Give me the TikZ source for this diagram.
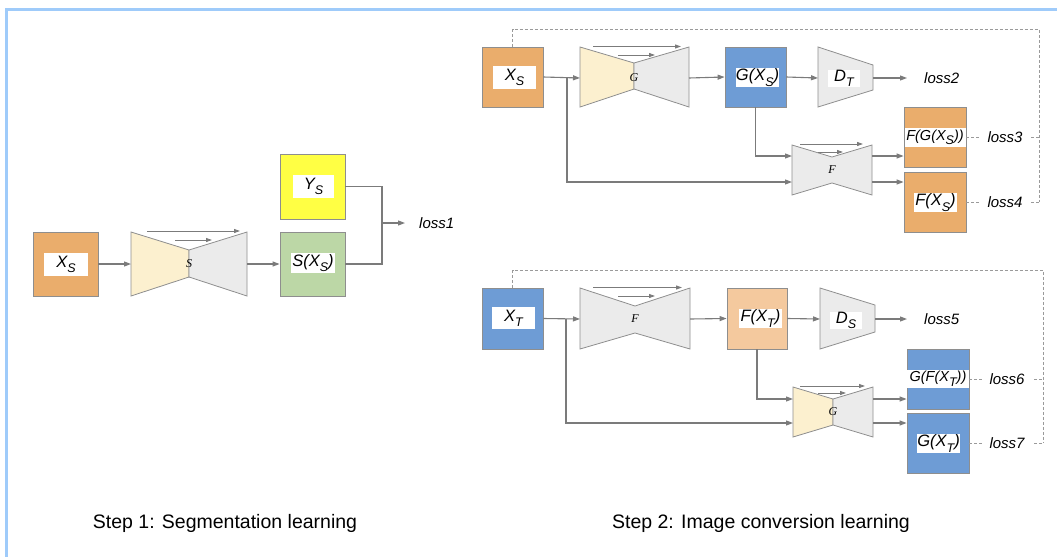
\documentclass[tikz,border=0pt]{standalone}
\usepackage{fontspec}
\setmainfont{Liberation Sans}
\newfontfamily\serifit{Liberation Serif}
\usetikzlibrary{arrows.meta}
\definecolor{frameblue}{HTML}{9FCBFA}
\definecolor{boxline}{HTML}{8E8E8E}
\definecolor{wire}{HTML}{7B7B7B}
\definecolor{dashgray}{HTML}{9A9A9A}
\definecolor{orangefill}{HTML}{EAAD6C}
\definecolor{bluefill}{HTML}{6E9CD5}
\definecolor{greenfill}{HTML}{BCD7A6}
\definecolor{yellowfill}{HTML}{FFFF44}
\definecolor{peachfill}{HTML}{F4C99E}
\definecolor{encfill}{HTML}{FCF0CF}
\definecolor{decfill}{HTML}{EBEBEB}
\newcommand\lowsub[1]{\raisebox{-0.6ex}{\fontsize{12.5}{12.5}\selectfont #1}}
\tikzset{
  databox/.style={draw=boxline, line width=0.8pt, inner sep=0pt},
  tag/.style={fill=white, inner sep=0pt, font=\fontsize{16.5}{18}\selectfont\itshape},
  smalltag/.style={tag, font=\fontsize{14.5}{16}\selectfont\itshape},
  wireline/.style={draw=wire, line width=1.1pt},
  arr/.style={wireline, -{Triangle[length=7pt,width=5pt]}},
  skiparr/.style={wireline, line width=0.9pt, -{Triangle[length=6pt,width=4pt]}},
  netshape/.style={draw=boxline, line width=0.8pt},
  netname/.style={font=\fontsize{12}{12}\selectfont\serifit\itshape, inner sep=0pt},
  lossname/.style={font=\fontsize{15}{15}\selectfont\itshape, inner sep=2pt, fill=white, anchor=center},
  fbloss/.style={lossname, inner xsep=8pt},
  feedback/.style={draw=dashgray, line width=1pt, dash pattern=on 3pt off 2pt},
  caption/.style={font=\fontsize{19.5}{22}\selectfont, inner sep=0pt},
}
\begin{document}
\begin{tikzpicture}[x=1pt,y=-1pt]
\useasboundingbox (0,0) rectangle (1057,557);
% page frame (top and left rules)
\fill[frameblue] (5,8) rectangle (1057,10.7);
\fill[frameblue] (5,8) rectangle (7.7,557);

% ---------------- Step 1: segmentation ----------------
\node[databox, fill=orangefill, minimum width=65, minimum height=64] (xs1) at (65.5,264) {};
\node[tag, minimum width=44, minimum height=23] (xs1t) at (66,264.5) {X\lowsub{S}};

% segmentation network S
\filldraw[netshape, fill=encfill] (131,232) -- (189,250) -- (189,277) -- (131,296) -- cycle;
\filldraw[netshape, fill=decfill] (189,250) -- (247,232) -- (247,296) -- (189,277) -- cycle;
\draw[skiparr] (147,231) -- (240,231);
\draw[skiparr] (175,240) -- (212,240);
\node[netname] (segS) at (189,264) {S};
\coordinate (segS-in) at (131,264);
\coordinate (segS-out) at (247,264);

\node[databox, fill=greenfill, minimum width=65, minimum height=64] (sxs1) at (312.5,264) {};
\node[tag, minimum width=44, minimum height=20] (sxs1t) at (313,263) {S(X\lowsub{S})};
\node[databox, fill=yellowfill, minimum width=65, minimum height=65] (ys1) at (312.5,186.5) {};
\node[tag, minimum width=41, minimum height=23] (ys1t) at (313.5,186.5) {Y\lowsub{S}};

\coordinate (j1) at (382,223);
\node[lossname, anchor=west] (loss1) at (417,223) {loss1};

\draw[arr] (xs1.east) -- (segS-in);
\draw[arr] (segS-out) -- (sxs1.west);
\draw[wireline] (ys1.east) -| (j1);
\draw[wireline] (sxs1.east) -| (j1);
\draw[arr, shorten >=12pt] (j1) -- (loss1.west);

% ---------------- Step 2: source to target ----------------
\node[databox, fill=orangefill, minimum width=61, minimum height=60] (xs2) at (512.5,77) {};
\node[tag, minimum width=43, minimum height=23] (xs2t) at (514.5,77.5) {X\lowsub{S}};

% generator G
\filldraw[netshape, fill=encfill] (580,47) -- (634,63) -- (634,89) -- (580,107) -- cycle;
\filldraw[netshape, fill=decfill] (634,63) -- (689,47) -- (689,107) -- (634,89) -- cycle;
\draw[skiparr] (593,46.5) -- (681,46.5);
\draw[skiparr] (618,55) -- (655,55);
\node[netname] (genGa) at (634,78) {G};
\coordinate (genGa-in) at (580,78);
\coordinate (genGa-out) at (689,78);

\node[databox, fill=bluefill, minimum width=61, minimum height=60] (gxs) at (755.5,77) {};
\node[tag, minimum width=41, minimum height=19] (gxst) at (757.5,77.5) {G(X\lowsub{S})};

% discriminator D_T
\filldraw[netshape, fill=decfill] (818,47) -- (873,65) -- (873,90) -- (818,107) -- cycle;
\node[tag, minimum width=32, minimum height=15] (dT) at (844,78.5) {D\lowsub{T}};
\coordinate (dT-in) at (818,78);
\coordinate (dT-out) at (873,78);
\node[lossname, anchor=west] (loss2) at (922,78) {loss2};

% generator F (cycle)
\filldraw[netshape, fill=decfill] (792,145) -- (832,157) -- (872,145) -- (872,195) -- (832,183) -- (792,195) -- cycle;
\draw[skiparr] (800,144) -- (863,144);
\draw[skiparr] (818,152) -- (843,152);
\node[netname] (genFa) at (832,170) {F};
\coordinate (genFa-in1) at (792,156);
\coordinate (genFa-in2) at (792,182);
\coordinate (genFa-out1) at (872,156);
\coordinate (genFa-out2) at (872,182);

\node[databox, fill=orangefill, minimum width=62, minimum height=60] (fgx) at (935,137) {};
\node[smalltag, minimum width=61, minimum height=19] (fgxt) at (935,137.5) {F(G(X\lowsub{S}))};
\node[databox, fill=orangefill, minimum width=62, minimum height=60] (fx) at (935,202) {};
\node[tag, minimum width=43, minimum height=19] (fxt) at (935.5,202.5) {F(X\lowsub{S})};

\coordinate (b1) at (567,78);
\draw[arr] (xs2.east) -- (genGa-in);
\draw[arr] (b1) |- (genFa-in2);
\draw[arr] (genGa-out) -- (gxs.west);
\draw[arr] (gxs.east) -- (dT-in);
\draw[arr, shorten >=15pt] (dT-out) -- (loss2.west);
\draw[arr] (gxs.south) |- (genFa-in1);
\draw[arr] (genFa-out1) -- (genFa-out1 -| fgx.west);
\draw[arr] (genFa-out2) -- (genFa-out2 -| fx.west);

% feedback for step 2 (source)
\coordinate (fbA) at (1039,29);
\draw[feedback] (xs2.north) |- (fbA) -- (1039,202);
\draw[feedback] (fgx.east) -- (1039,137);
\draw[feedback] (fx.east) -- (1039,202);
\node[fbloss] (loss3) at (1005,137) {loss3};
\node[fbloss] (loss4) at (1005,202) {loss4};

% ---------------- Step 2: target to source ----------------
\node[databox, fill=bluefill, minimum width=61, minimum height=61] (xt) at (512.5,318.5) {};
\node[tag, minimum width=43, minimum height=22] (xtt) at (513.5,318) {X\lowsub{T}};

% generator F
\filldraw[netshape, fill=decfill] (580,288) -- (635,306) -- (690,288) -- (690,349) -- (635,333) -- (580,349) -- cycle;
\draw[skiparr] (593,287.5) -- (682,287.5);
\draw[skiparr] (618,296) -- (655,296);
\node[netname] (genFb) at (635,319) {F};
\coordinate (genFb-in) at (580,319);
\coordinate (genFb-out) at (690,319);

\node[databox, fill=peachfill, minimum width=60, minimum height=61] (fxt2) at (757,318.5) {};
\node[tag, minimum width=43, minimum height=19] (fxt2t) at (760.5,318.5) {F(X\lowsub{T})};

% discriminator D_S
\filldraw[netshape, fill=decfill] (820,288) -- (875,305) -- (875,332) -- (820,349) -- cycle;
\node[tag, minimum width=32, minimum height=15] (dS) at (846,320.5) {D\lowsub{S}};
\coordinate (dS-in) at (820,319);
\coordinate (dS-out) at (875,319);
\node[lossname, anchor=west] (loss5) at (922,319) {loss5};

% generator G (cycle)
\filldraw[netshape, fill=encfill] (793,387) -- (833,399) -- (833,425) -- (793,437) -- cycle;
\filldraw[netshape, fill=decfill] (833,399) -- (873,387) -- (873,437) -- (833,425) -- cycle;
\draw[skiparr] (800,386) -- (865,386);
\draw[skiparr] (818,393) -- (846,393);
\node[netname] (genGb) at (833,412) {G};
\coordinate (genGb-in1) at (793,399);
\coordinate (genGb-in2) at (793,423);
\coordinate (genGb-out1) at (873,399);
\coordinate (genGb-out2) at (873,423);

\node[databox, fill=bluefill, minimum width=62, minimum height=60] (gfx) at (938,379) {};
\node[smalltag, minimum width=62, minimum height=18] (gfxt) at (938,379) {G(F(X\lowsub{T}))};
\node[databox, fill=bluefill, minimum width=62, minimum height=60] (gxt) at (938,443) {};
\node[tag, minimum width=43, minimum height=19] (gxtt) at (938.5,443.5) {G(X\lowsub{T})};

\coordinate (b2) at (566,319);
\draw[arr] (xt.east) -- (genFb-in);
\draw[arr] (b2) |- (genGb-in2);
\draw[arr] (genFb-out) -- (fxt2.west);
\draw[arr] (fxt2.east) -- (dS-in);
\draw[arr, shorten >=15pt] (dS-out) -- (loss5.west);
\draw[arr] (fxt2.south) |- (genGb-in1);
\draw[arr] (genGb-out1) -- (genGb-out1 -| gfx.west);
\draw[arr] (genGb-out2) -- (genGb-out2 -| gxt.west);

% feedback for step 2 (target)
\coordinate (fbB) at (1043,270);
\draw[feedback] (xt.north) |- (fbB) -- (1043,443);
\draw[feedback] (gfx.east) -- (1043,379);
\draw[feedback] (gxt.east) -- (1043,443);
\node[fbloss] (loss6) at (1007,379) {loss6};
\node[fbloss] (loss7) at (1007,443) {loss7};

% captions
\node[caption] (cap1) at (225,523) {Step 1: Segmentation learning};
\node[caption] (cap2) at (761,523) {Step 2: Image conversion learning};
\end{tikzpicture}
\end{document}
